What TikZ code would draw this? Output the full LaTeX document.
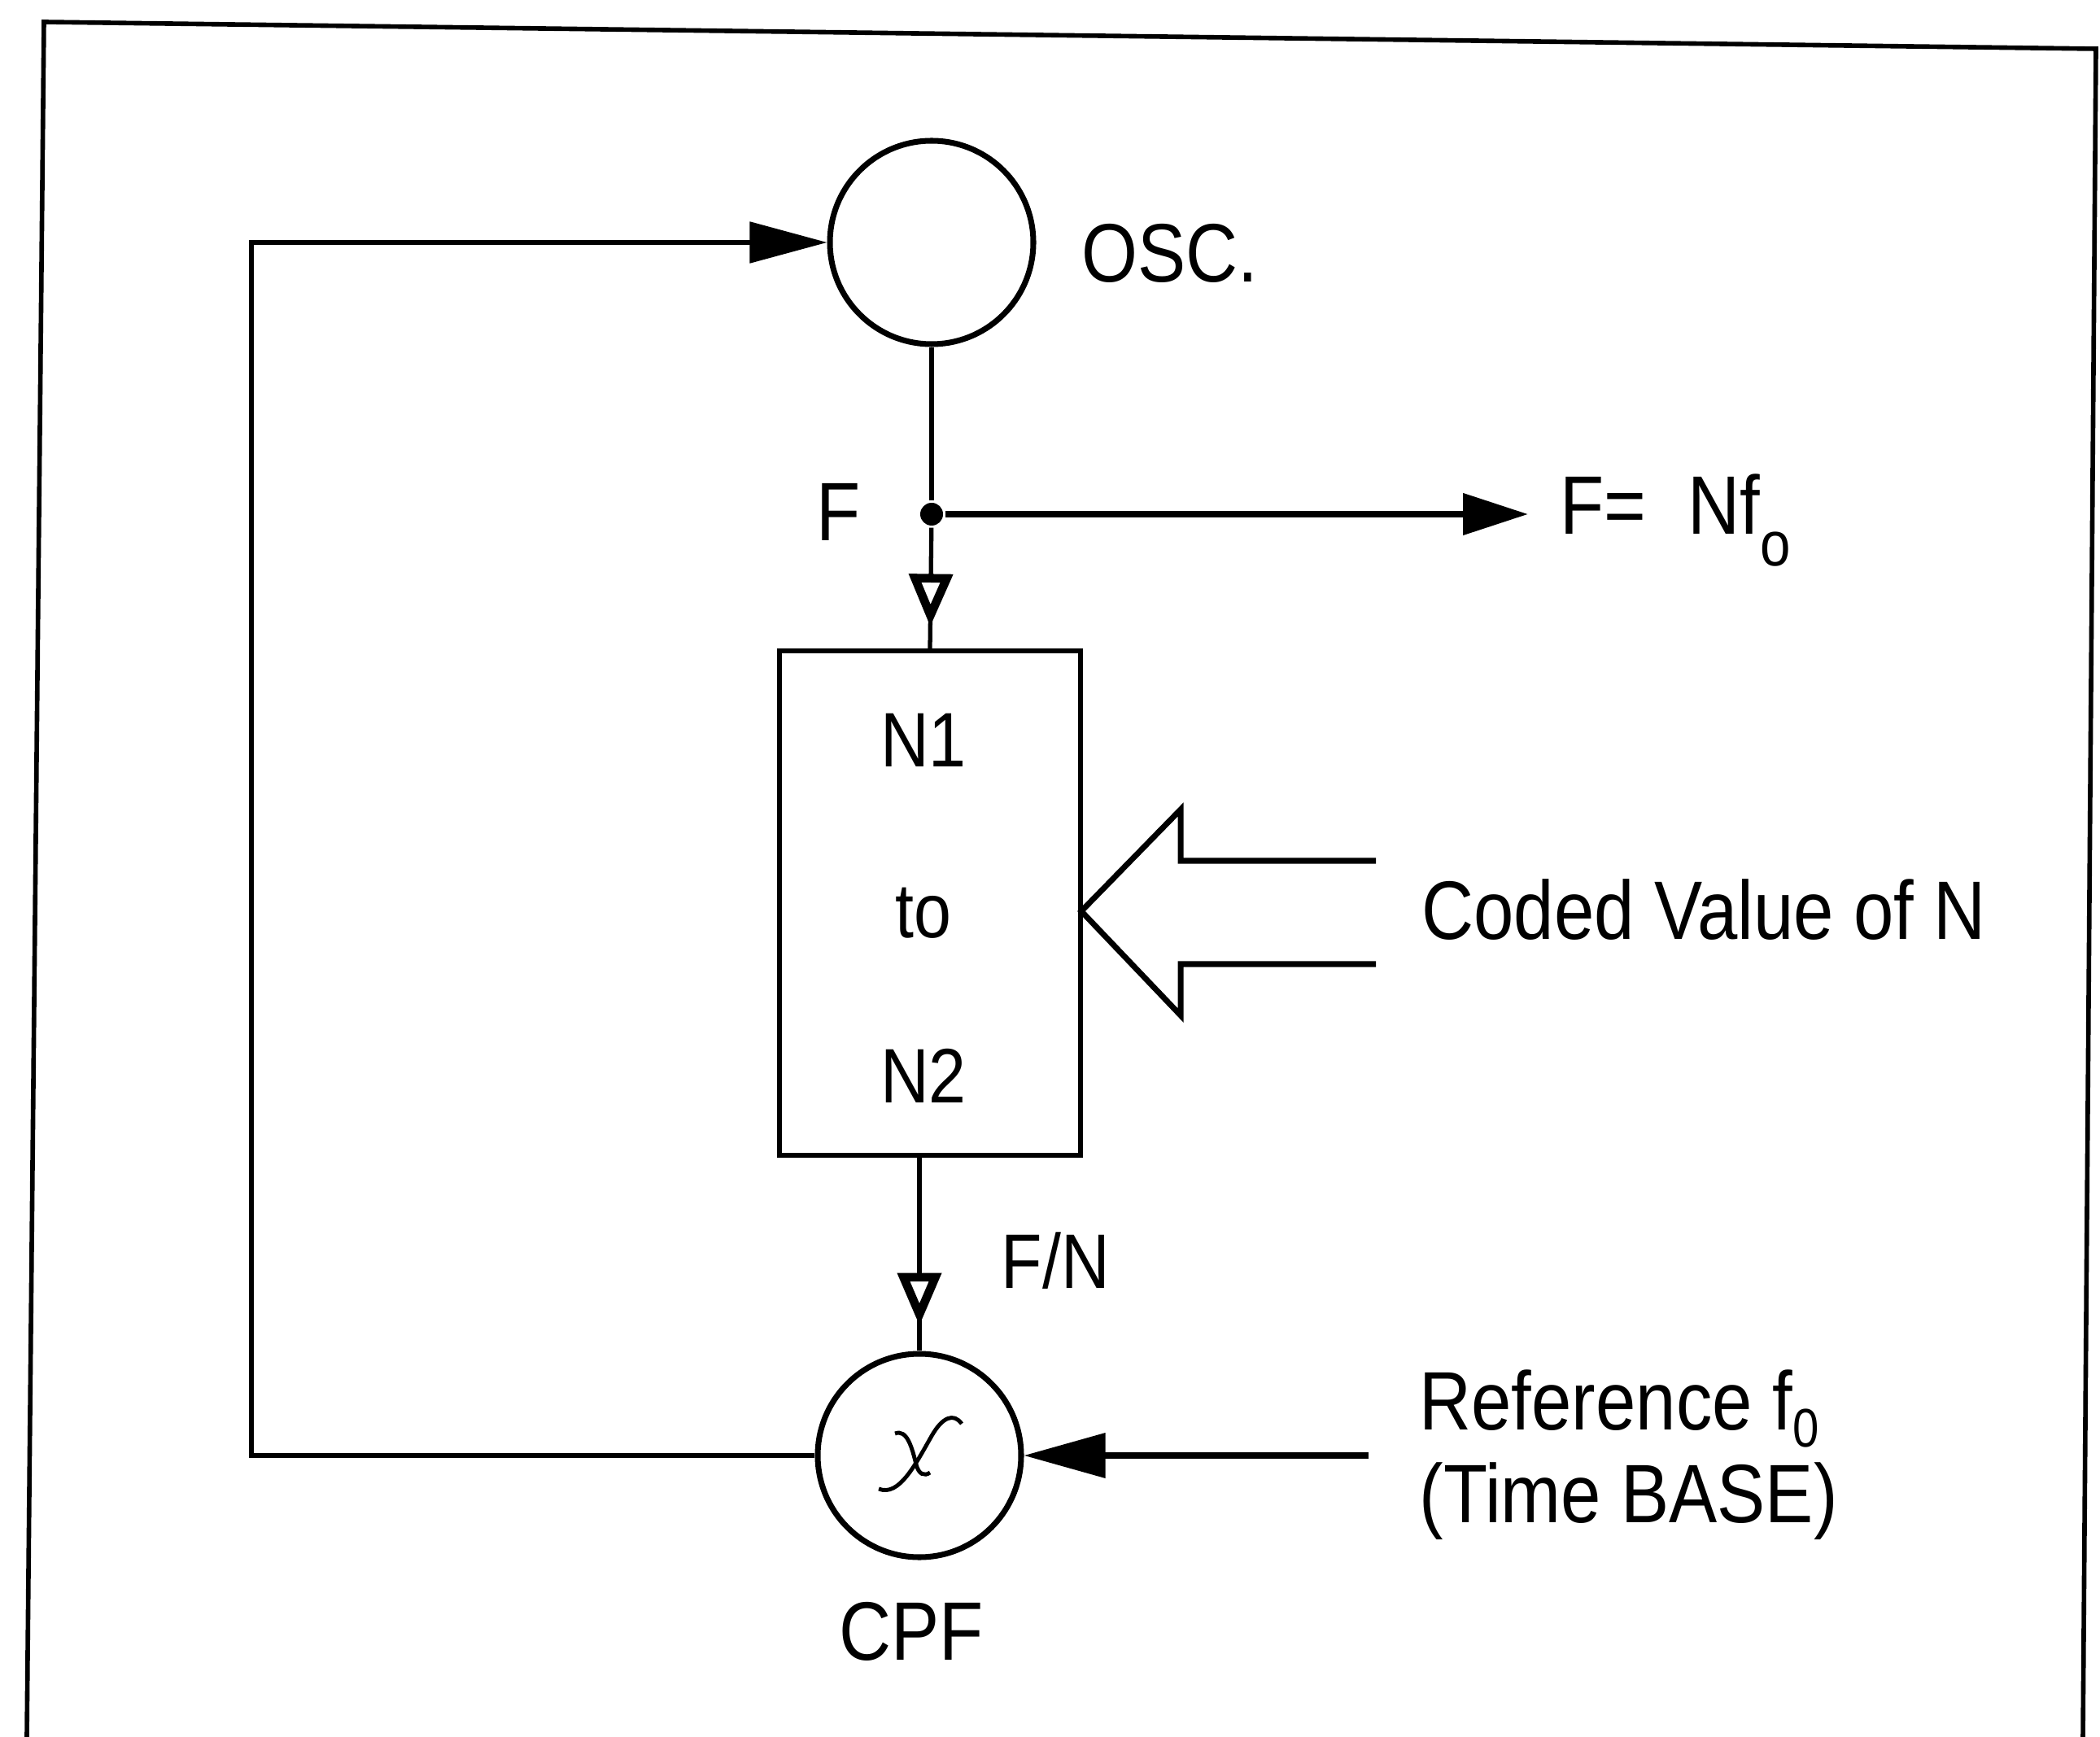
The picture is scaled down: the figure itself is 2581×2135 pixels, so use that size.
\documentclass[tikz,border=0pt]{standalone}
\usepackage{fontspec}
\usepackage{graphicx}
\newfontfamily\labfont[FakeStretch=0.87]{Liberation Sans}
\usetikzlibrary{arrows.meta,decorations.markings,calc}
\begin{document}
\begin{tikzpicture}[x=0.1mm,y=-0.1mm,
  line width=1.5pt,
  lbl/.style={font=\labfont\fontsize{29}{34}\selectfont, inner sep=0pt},
  lbls/.style={font=\labfont\fontsize{27}{32}\selectfont, inner sep=0pt},
  circ/.style={draw, circle, line width=2pt, minimum size=25mm, inner sep=0pt},
  blk/.style={draw, rectangle, line width=1.6pt, minimum width=37mm, minimum height=62mm, inner sep=0pt},
  midopen/.style={postaction={decorate}, decoration={markings, mark=at position #1 with {\arrow{Triangle[fill=white,length=6.5mm,width=5.2mm,line width=3pt]}}}}
]
\useasboundingbox (0,0) rectangle (2581,2135);
% frame
\draw[line width=1.6pt] (33,2135) -- (54,27) -- (2576,60) -- (2560,2135);

% oscillator
\node[circ] (osc) at (1145,298) {};
\node[lbl, anchor=base west] (osclbl) at (1327,347) {OSC.};

% junction
\node[circle, fill, inner sep=0pt, minimum size=2.8mm] (J) at (1145,632) {};
\draw (osc.south) -- (J);
\node[lbl] (Flbl) at (1031,629) {F};

% output
\coordinate (out) at (1878,632);
\draw[-{Triangle[length=8mm,width=5mm]}, line width=2.2pt] (J) -- (out);
\node[lbl, anchor=base west] (outlbl) at (1915,657) {F=\,\,\,Nf\raisebox{-11pt}{\fontsize{22}{22}\selectfont o}};

% divider box
\node[blk] (box) at (1143,1110) {};
\draw[midopen=0.82] (J) -- (box.north);
\node[lbls, anchor=base] (n1) at (1135,942) {N1};
\node[lbls, anchor=base] (to) at (1135,1152) {to};
\node[lbls, anchor=base] (n2) at (1135,1355) {N2};

% hollow input arrow
\coordinate (cvt) at (1329,1120);
\draw[line width=2pt, line join=miter] (1691,1058) -- (1451,1058) -- (1451,995) -- (cvt) -- (1451,1248) -- (1451,1185) -- (1691,1185);
\node[lbl, anchor=base west] (cv) at (1745,1154) {Coded Value of N};

% phase comparator
\node[circ] (cpf) at (1130,1789) {};
\draw[line width=1.4pt] (1182,1750) .. controls (1172,1736) and (1158,1742) .. (1145,1765) .. controls (1125,1800) and (1105,1840) .. (1080,1830);
\draw[line width=1.4pt] (1100,1762) .. controls (1115,1756) and (1121,1780) .. (1126,1800) .. controls (1129,1812) and (1136,1815) .. (1143,1810);
\node[lbl, anchor=base] (cpflbl) at (1120,2040) {CPF};
\draw[midopen=0.87] (cpf.north |- box.south) -- (cpf.north);
\node[lbls, anchor=base west] (fn) at (1228,1583) {F/N};

% reference input
\coordinate (refin) at (1682,1789);
\draw[-{Triangle[length=10mm,width=5.4mm]}, line width=2pt] (refin) -- (cpf.east);
\node[lbl, anchor=base west] (ref1) at (1742,1757) {Reference f\raisebox{-6pt}{\fontsize{19}{19}\selectfont 0}};
\node[lbl, anchor=base west] (ref2) at (1742,1871) {(Time BASE)};

% feedback
\coordinate (fb) at (309,1000);
\draw[-{Triangle[length=9.5mm,width=5mm]}] (cpf.west) -| (fb) |- (osc.west);
\end{tikzpicture}
\end{document}
